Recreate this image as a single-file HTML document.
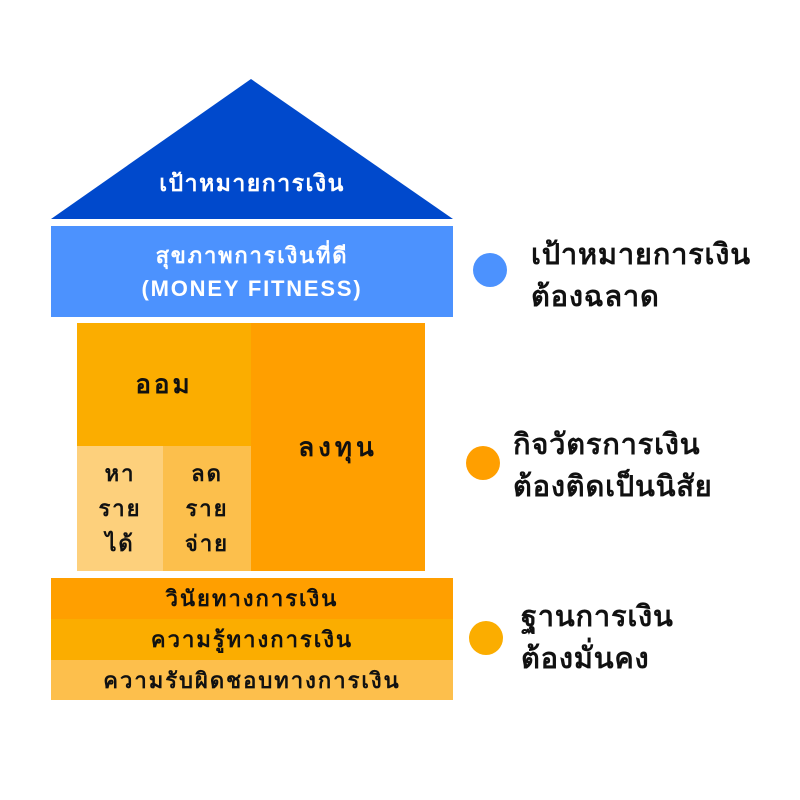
<!DOCTYPE html>
<html><head><meta charset="utf-8"><style>
body{margin:0;width:800px;height:800px;background:#fff;position:relative;overflow:hidden;font-family:"Liberation Sans","DejaVu Sans",sans-serif;font-weight:bold;}
.b{position:absolute;display:flex;align-items:center;justify-content:center;text-align:center;}
.t{position:absolute;color:#111;font-size:29px;line-height:42px;letter-spacing:0.8px;}
.c{position:absolute;border-radius:50%;}
</style></head><body>
<svg style="position:absolute;left:0;top:0" width="800" height="800">
<polygon points="251,79 51,219 453,219" fill="#0049CC"/>
</svg>
<div class="b" style="left:51px;top:166px;width:402px;height:36px;color:#fff;font-size:23px;letter-spacing:1.5px;">เป้าหมายการเงิน</div>
<div class="b" style="left:51px;top:226px;width:402px;height:91px;background:#4C92FE;color:#fff;font-size:22px;line-height:33px;letter-spacing:1.8px;">สุขภาพการเงินที่ดี<br>(MONEY FITNESS)</div>
<div class="b" style="left:77px;top:323px;width:174px;height:123px;background:#FBAD00;color:#111;font-size:26px;letter-spacing:3px;">ออม</div>
<div class="b" style="left:77px;top:446px;width:86px;height:125px;background:#FDD07C;color:#111;font-size:22px;line-height:35px;letter-spacing:2px;">หา<br>ราย<br>ได้</div>
<div class="b" style="left:163px;top:446px;width:88px;height:125px;background:#FCBF4C;color:#111;font-size:22px;line-height:35px;letter-spacing:2px;">ลด<br>ราย<br>จ่าย</div>
<div class="b" style="left:251px;top:323px;width:174px;height:248px;background:#FF9F00;color:#111;font-size:26px;letter-spacing:4px;align-items:flex-start;padding-top:104px;box-sizing:border-box;">ลงทุน</div>
<div class="b" style="left:51px;top:578px;width:402px;height:41px;background:#FF9F00;color:#111;font-size:22px;letter-spacing:2px;">วินัยทางการเงิน</div>
<div class="b" style="left:51px;top:619px;width:402px;height:41px;background:#FBAD00;color:#111;font-size:22px;letter-spacing:2px;">ความรู้ทางการเงิน</div>
<div class="b" style="left:51px;top:660px;width:402px;height:40px;background:#FDBF4C;color:#111;font-size:22px;letter-spacing:2px;">ความรับผิดชอบทางการเงิน</div>
<div class="c" style="left:473px;top:253px;width:34px;height:34px;background:#4C92FE"></div>
<div class="c" style="left:466px;top:446px;width:34px;height:34px;background:#FF9F00"></div>
<div class="c" style="left:469px;top:621px;width:34px;height:34px;background:#FBAD00"></div>
<div class="t" style="left:531px;top:234px;">เป้าหมายการเงิน<br>ต้องฉลาด</div>
<div class="t" style="left:513px;top:424px;">กิจวัตรการเงิน<br>ต้องติดเป็นนิสัย</div>
<div class="t" style="left:521px;top:596px;">ฐานการเงิน<br>ต้องมั่นคง</div>
</body></html>
